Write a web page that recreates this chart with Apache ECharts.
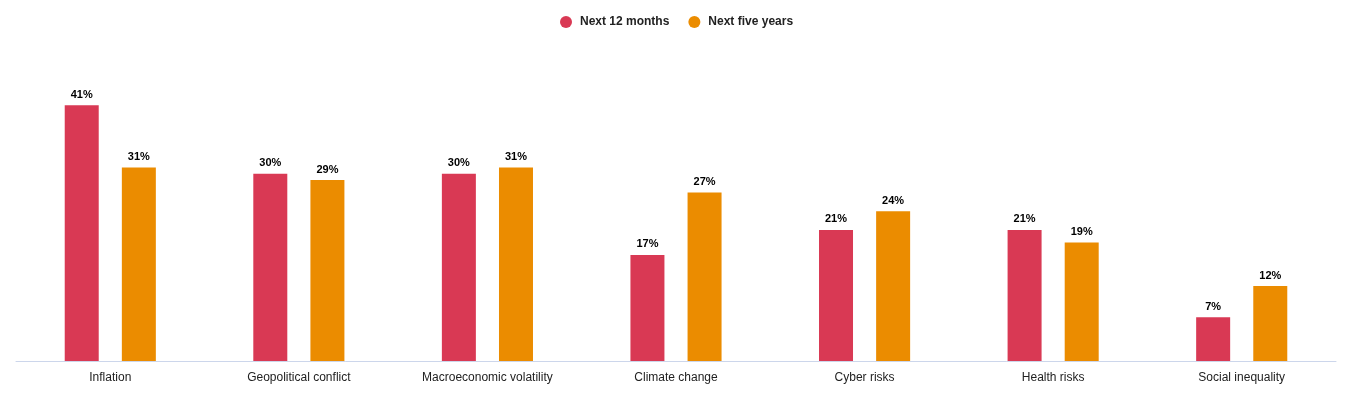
<!DOCTYPE html>
<html>
<head>
<meta charset="utf-8">
<script src="https://cdn.jsdelivr.net/npm/echarts@6/dist/echarts.min.js"></script>
<style>
html,body{margin:0;padding:0;background:#fff;}
#chart{width:1366px;height:406px;}
</style>
</head>
<body>
<div id="chart"></div>
<script>
const categories = ["Inflation","Geopolitical conflict","Macroeconomic volatility","Climate change","Cyber risks","Health risks","Social inequality"];
const next12Months = [41,30,30,17,21,21,7];
const nextFiveYears = [31,29,31,27,24,19,12];
const seriesNames = ["Next 12 months","Next five years"];

const font = "'Liberation Sans', Arial, Helvetica, sans-serif";
const chart = echarts.init(document.getElementById('chart'));
const labelCfg = {
  show: true, position: 'top', distance: 5,
  formatter: p => p.value + '%',
  fontFamily: font, fontSize: 11, fontWeight: 'bold', color: '#000'
};
chart.setOption({
  animation: false,
  textStyle: { fontFamily: font },
  legend: {
    top: 11, left: 555, icon: 'circle', itemWidth: 12, itemHeight: 12, itemGap: 19,
    textStyle: { fontFamily: font, fontSize: 12, fontWeight: 'bold', color: '#222', padding: [0, 0, 0, 3] }
  },
  grid: { left: 16, right: 30, top: 49, bottom: 45, containLabel: false },
  xAxis: {
    type: 'category', data: categories,
    axisLine: { lineStyle: { color: '#ccd6eb', width: 1 } },
    axisTick: { show: false },
    axisLabel: { fontFamily: font, fontSize: 12, color: '#222', margin: 11 }
  },
  yAxis: { type: 'value', min: 0, max: 50, show: false, splitLine: { show: false } },
  series: [
    { name: seriesNames[0], type: 'bar', data: next12Months, barWidth: 34, barGap: '68%',
      itemStyle: { color: '#d93954' }, label: labelCfg },
    { name: seriesNames[1], type: 'bar', data: nextFiveYears, barWidth: 34,
      itemStyle: { color: '#eb8c00' }, label: labelCfg }
  ]
});
</script>
</body>
</html>
